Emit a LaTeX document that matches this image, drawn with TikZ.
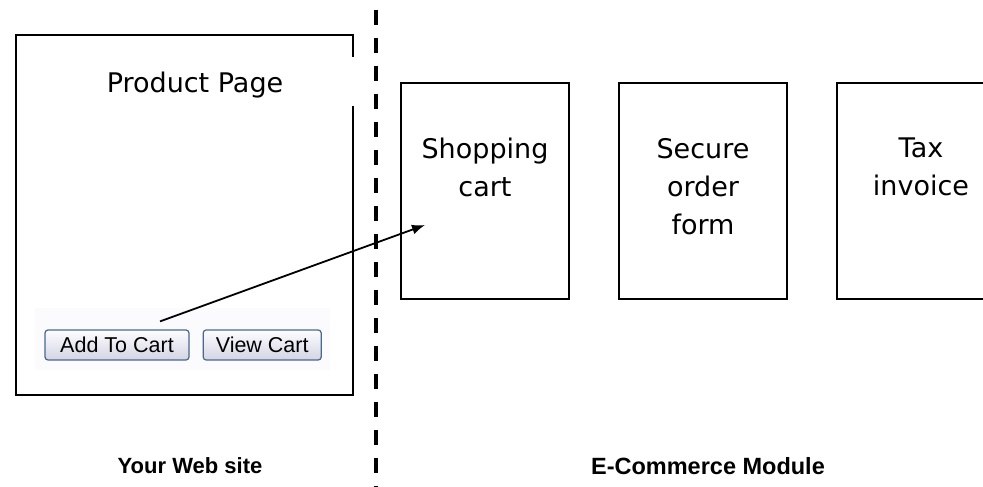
\documentclass[tikz,border=0pt]{standalone}
\usepackage{fontspec}
\setmainfont{DejaVu Sans}
\newfontfamily\btnfont{Liberation Sans}
\usetikzlibrary{positioning,arrows.meta}
\definecolor{btnborder}{RGB}{72,104,146}
\definecolor{btntop}{RGB}{253,253,255}
\definecolor{btnbottom}{RGB}{212,212,228}
\definecolor{btnpanel}{RGB}{251,251,253}
\tikzset{
  page box/.style={draw, line width=2pt, minimum width=168pt, minimum height=216pt, inner sep=0pt},
  box text/.style={font=\fontsize{27}{38}\selectfont, align=center, inner sep=0pt},
  cart button/.style={draw=btnborder, line width=1.2pt, rounded corners=3pt, top color=btntop,
    bottom color=btnbottom, font=\btnfont\fontsize{21.5}{21.5}\selectfont, minimum height=30pt, inner sep=0pt},
  site label/.style={font=\btnfont\bfseries\fontsize{22}{22}\selectfont},
  divider/.style={line width=3.5pt, dash pattern=on 15pt off 13pt},
}

\begin{document}
\begin{tikzpicture}[x=1pt, y=-1pt, node distance=48pt]
  \useasboundingbox (0,0) rectangle (983,487);
  % your web site
  \node[draw, line width=2pt, minimum width=337pt, minimum height=360pt, anchor=north west] (product) at (15,34) {};
  \fill[white] (348,57) rectangle (356,106);
  \node[box text] (product title) at (195,85) {Product Page};
  \fill[btnpanel] (35,308) rectangle (330,370);
  \node[cart button, minimum width=144pt] (addcart) at (117,345) {Add To Cart};
  \node[cart button, minimum width=118pt, right=13pt of addcart] (viewcart) {View Cart};
  % e-commerce module
  \node[page box, anchor=north west] (cart) at (400,82) {};
  \node[page box, right=of cart] (secure) {};
  \node[page box, right=of secure] (tax) {};
  \node[box text, anchor=north] (cart text) at ([yshift=-56pt]cart.north) {Shopping\\cart};
  \node[box text, anchor=north] (secure text) at ([yshift=-56pt]secure.north) {Secure\\order\\form};
  \node[box text, anchor=north] (tax text) at ([yshift=-56pt]tax.north) {Tax\\invoice};
  % divider
  \draw[divider] (376,10) -- (376,487);
  % link
  \coordinate (click) at ([xshift=43pt, yshift=8pt]addcart.north);
  \coordinate (drop) at ([xshift=25pt, yshift=-143pt]cart.north west);
  \draw[line width=1.8pt, -{Latex[length=13pt, width=10pt]}] (click) -- (drop);
  \node[site label] (web site) at (190,466) {Your Web site};
  \node[site label, font=\btnfont\bfseries\fontsize{23.5}{23.5}\selectfont] (module) at (708,466) {E-Commerce Module};
\end{tikzpicture}
\end{document}
